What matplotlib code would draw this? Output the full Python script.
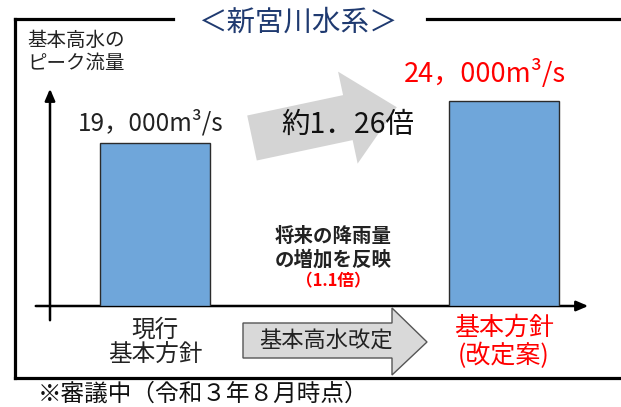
import numpy as np
import matplotlib
matplotlib.use("Agg")
import matplotlib.pyplot as plt
from matplotlib.patches import Polygon

plt.rcParams['font.family'] = ['Noto Sans CJK JP', 'DejaVu Sans']

# data
categories = ["現行\n基本方針", "基本方針\n(改定案)"]
flows = [19000, 24000]
value_labels = ["19，000m³/s", "24，000m³/s"]
label_colors = ["#222222", "#FF0000"]
title = "＜新宮川水系＞"
ratio_text = "約1．26倍"
note_text = "※審議中（令和３年８月時点）"

W, H = 621, 407
fig = plt.figure(figsize=(W / 100, H / 100), dpi=100)

# overlay in pixel coordinates for the frame and decorations
ov = fig.add_axes([0, 0, 1, 1])
ov.set_xlim(0, W)
ov.set_ylim(H, 0)
ov.axis("off")

# bar axes: baseline at y=306 px, bars centred at 155 and 504 px
x0_px, x1_px, base_px, top_px = 33, 590, 306, 87
ax = fig.add_axes([x0_px / W, (H - base_px) / H, (x1_px - x0_px) / W, (base_px - top_px) / H])
ax.patch.set_alpha(0)
ax.axis("off")
c0, step = 155, 349
ax.set_xlim((x0_px - c0) / step, (x1_px - c0) / step)
ax.set_ylim(0, (base_px - top_px) * 116.8)
xpos = np.arange(len(flows))
ax.bar(xpos, flows, width=0.318, color="#6FA6DA", edgecolor="#2b2b2b", linewidth=1.0, zorder=3)

# frame
lw = 2.3
ov.plot([15, 15], [19, 378], color="black", lw=lw, solid_capstyle="projecting")
ov.plot([15, W + 5], [378, 378], color="black", lw=lw)
ov.plot([15, 173], [19, 19], color="black", lw=lw, solid_capstyle="projecting")
ov.plot([427, W + 5], [19, 19], color="black", lw=lw)
ov.text(298, 23, title, ha="center", va="center", fontsize=20.5, color="#1F3A70")

# axis labels
ov.text(27, 40, "基本高水の", ha="left", va="center", fontsize=14, color="#222222")
ov.text(27, 63, "ピーク流量", ha="left", va="center", fontsize=14, color="#222222")

# axes arrows
ov.annotate("", xy=(50, 86), xytext=(50, 323),
            arrowprops=dict(arrowstyle="-|>,head_length=0.7,head_width=0.3", color="black", lw=1.8))
ov.annotate("", xy=(591, 306), xytext=(33, 306),
            arrowprops=dict(arrowstyle="-|>,head_length=0.7,head_width=0.3", color="black", lw=1.8))

# big gray ratio arrow (rotated block arrow)
th = np.deg2rad(12)
u = np.array([np.cos(th), -np.sin(th)])
n = np.array([-np.sin(th), -np.cos(th)])
C0 = np.array([252.0, 138.0])
L, hl, w, hw = 148, 50, 23, 47
pts = [C0 + w * n, C0 + (L - hl) * u + w * n, C0 + (L - hl) * u + hw * n, C0 + L * u,
       C0 + (L - hl) * u - hw * n, C0 + (L - hl) * u - w * n, C0 - w * n]
ov.add_patch(Polygon(pts, closed=True, facecolor="#D4D4D4", edgecolor="none", zorder=1))
ov.text(348, 125, ratio_text, ha="center", va="center", fontsize=20.5, color="#111111", zorder=2)

# value labels above the bars
offsets = [(-4, 20), (-19, 27)]
sizes = [17.5, 19.5]
for x, v, s, c, off, fs in zip(xpos, flows, value_labels, label_colors, offsets, sizes):
    ax.annotate(s, xy=(x, v), xytext=off, textcoords="offset pixels",
                ha="center", va="center", fontsize=fs, color=c)

# category labels under the bars
for x, s, c in zip(xpos, categories, label_colors):
    ax.annotate(s, xy=(x, 0), xytext=(0, -36), textcoords="offset pixels",
                ha="center", va="center", fontsize=18 if x else 17, color=c, linespacing=1.05)

# middle note
ov.text(333, 237, "将来の降雨量", ha="center", va="center", fontsize=14, fontweight="bold", color="#222222")
ov.text(333, 260, "の増加を反映", ha="center", va="center", fontsize=14, fontweight="bold", color="#222222")
ov.text(333, 281, "（1.1倍）", ha="center", va="center", fontsize=12, fontweight="bold", color="#FF0000")

# revision block arrow
block = [(243, 323), (392, 323), (392, 308), (427, 342), (392, 375), (392, 358), (243, 358)]
ov.add_patch(Polygon(block, closed=True, facecolor="#D9D9D9", edgecolor="#555555", lw=1.0))
ov.text(326, 341, "基本高水改定", ha="center", va="center", fontsize=16, color="#222222")

# footnote
ov.text(38, 394, note_text, ha="left", va="center", fontsize=17, color="#111111")

fig.savefig("out.png", dpi=100)
